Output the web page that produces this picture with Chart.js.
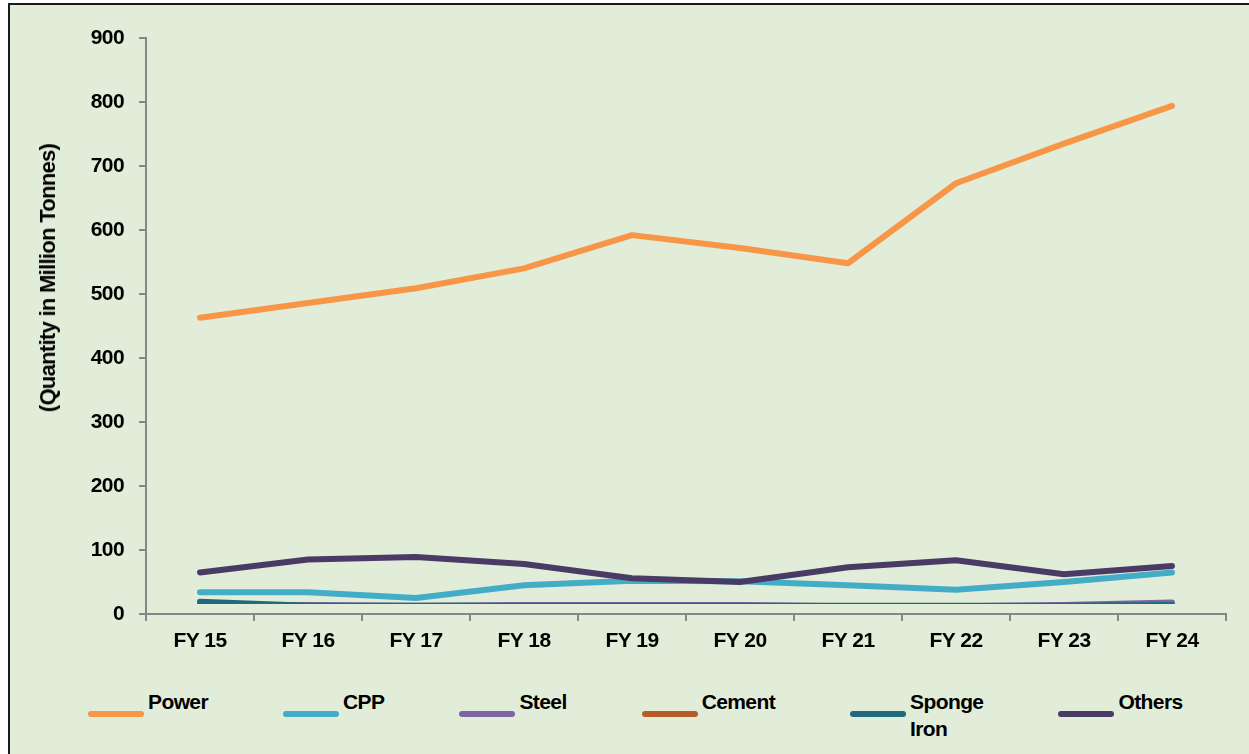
<!DOCTYPE html>
<html>
<head>
<meta charset="utf-8">
<script src="https://cdn.jsdelivr.net/npm/chart.js@4/dist/chart.umd.min.js"></script>
<style>
  html, body { margin: 0; padding: 0; background: #fff; width: 1249px; height: 754px; overflow: hidden; }
  body { position: relative; font-family: "Liberation Sans", Arial, sans-serif; }
  #frame { position: absolute; left: 8px; top: 3px; width: 1260px; height: 780px; border: 2px solid #1a1a1a; background: #E2EDD9; }
  #wrap { position: absolute; left: 0; top: 0; width: 1249px; height: 680px; }
  #ytitle { position: absolute; left: 48px; top: 278px; transform: translate(-50%, -50%) rotate(-90deg); white-space: nowrap;
            font-size: 22px; font-weight: bold; letter-spacing: -0.7px; color: #000; }
  #legend { position: absolute; left: 88px; top: 688px; display: flex; gap: 75px; align-items: flex-start; }
  .item { display: flex; align-items: flex-start; }
  .swatch { width: 56px; height: 6px; border-radius: 3px; margin-top: 23px; margin-right: 4px; }
  .txt { font-size: 21px; font-weight: bold; letter-spacing: -0.6px; line-height: 27px; width: min-content; color: #000; }
</style>
</head>
<body>
<div id="frame"></div>
<div id="wrap"><canvas id="coalChart"></canvas></div>
<div id="ytitle">(Quantity in Million Tonnes)</div>
<div id="legend"></div>
<script>
var years = ['FY 15', 'FY 16', 'FY 17', 'FY 18', 'FY 19', 'FY 20', 'FY 21', 'FY 22', 'FY 23', 'FY 24'];
var power = [463, 486, 509, 540, 592, 572, 548, 673, 735, 794];
var cpp = [34, 34, 25, 45, 52, 51, 45, 38, 50, 65];
var steel = [14, 14, 13, 14, 14, 14, 12, 12, 14, 18];
var cement = [8, 8, 8, 8, 8, 8, 8, 8, 8, 8];
var spongeIron = [19, 13, 13, 13, 13, 13, 13, 13, 13, 14];
var others = [65, 85, 89, 78, 56, 50, 73, 84, 62, 75];
var yTicks = [0, 100, 200, 300, 400, 500, 600, 700, 800, 900];

var names = ['Power', 'CPP', 'Steel', 'Cement', 'Sponge Iron', 'Others'];
var colors = ['#F79646', '#43ADC7', '#7E63A6', '#B65C26', '#1F6B7B', '#4A3A66'];
var series = [power, cpp, steel, cement, spongeIron, others];

var axisGray = '#868686';
var font = { family: '"Liberation Sans", Arial, sans-serif', size: 21, weight: 'bold' };

var datasets = [];
for (var i = 0; i < series.length; i++) {
  datasets.push({
    label: names[i],
    data: series[i],
    borderColor: colors[i],
    backgroundColor: colors[i],
    borderWidth: 6,
    borderCapStyle: 'round',
    borderJoinStyle: 'round',
    pointRadius: 0,
    tension: 0,
    order: series.length - i, // later series drawn on top, like excel
    clip: { left: 6, top: 6, right: 6, bottom: -10 }
  });
}

// the original uses a narrow font, squeeze the canvas text a bit
var narrowText = {
  id: 'narrowText',
  beforeDraw: function(chart) {
    chart.ctx.letterSpacing = '-0.6px';
  }
};

var ctx = document.getElementById('coalChart');
var chart = new Chart(ctx, {
  type: 'line',
  data: { labels: years, datasets: datasets },
  plugins: [narrowText],
  options: {
    responsive: true,
    maintainAspectRatio: false,
    animation: false,
    layout: { padding: { top: 38, right: 23, left: 0, bottom: 0 } },
    plugins: { legend: { display: false }, tooltip: { enabled: false } },
    scales: {
      x: {
        offset: true,
        grid: { display: true, offset: true, drawOnChartArea: false, tickLength: 7, color: axisGray, lineWidth: 2 },
        border: { display: true, color: axisGray, width: 2 },
        ticks: { color: '#000', font: font, padding: 8, maxRotation: 0 },
        afterFit: function(scale) { scale.height = 66; }
      },
      y: {
        min: 0,
        max: 900,
        afterBuildTicks: function(scale) {
          scale.ticks = yTicks.map(function(v) { return { value: v }; });
        },
        grid: { display: true, drawOnChartArea: false, tickLength: 7, color: axisGray, lineWidth: 2 },
        border: { display: true, color: axisGray, width: 2 },
        ticks: { color: '#000', font: font, padding: 15 },
        afterFit: function(scale) { scale.width = 146; }
      }
    }
  }
});

// legend in page order
var legend = document.getElementById('legend');
for (var j = 0; j < names.length; j++) {
  var item = document.createElement('div');
  item.className = 'item';
  var sw = document.createElement('span');
  sw.className = 'swatch';
  sw.style.background = colors[j];
  var tx = document.createElement('div');
  tx.className = 'txt';
  tx.textContent = names[j];
  item.appendChild(sw);
  item.appendChild(tx);
  legend.appendChild(item);
}
</script>
</body>
</html>
